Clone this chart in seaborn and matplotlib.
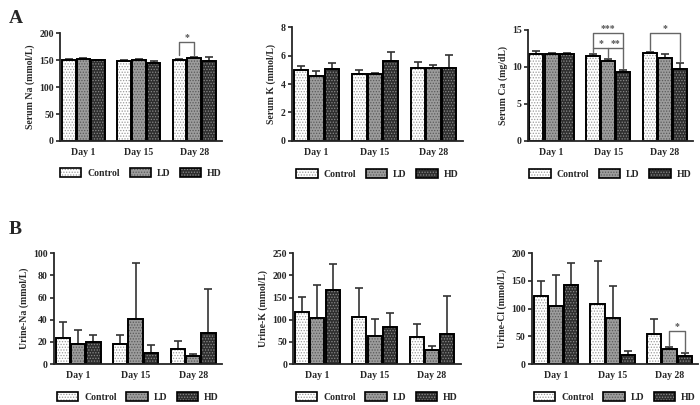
import numpy as np
import pandas as pd
import matplotlib
matplotlib.use("Agg")
import matplotlib.pyplot as plt
from matplotlib.patches import Patch
import seaborn as sns

# data (mean, upper SD)
days = ["Day 1", "Day 15", "Day 28"]
groups = ["Control", "LD", "HD"]

serum_na = {"Control": [150, 148, 150], "LD": [152, 151, 154], "HD": [150, 145, 148]}
serum_na_err = {"Control": [2, 1.5, 2], "LD": [2, 2, 1.5], "HD": [1, 3, 7]}

serum_k = {"Control": [5.0, 4.7, 5.1], "LD": [4.6, 4.7, 5.1], "HD": [5.05, 5.6, 5.1]}
serum_k_err = {"Control": [0.25, 0.3, 0.45], "LD": [0.3, 0.1, 0.25], "HD": [0.4, 0.65, 0.95]}

serum_ca = {"Control": [11.8, 11.5, 11.9], "LD": [11.8, 10.8, 11.2], "HD": [11.7, 9.3, 9.7]}
serum_ca_err = {"Control": [0.3, 0.2, 0.15], "LD": [0.1, 0.25, 0.5], "HD": [0.15, 0.35, 0.8]}

urine_na = {"Control": [23.5, 18, 14], "LD": [18, 41, 7], "HD": [20, 10, 28]}
urine_na_err = {"Control": [14, 8, 6.5], "LD": [13, 50, 2], "HD": [6, 7.5, 40]}

urine_k = {"Control": [118, 107, 61], "LD": [103, 64, 31], "HD": [167, 84, 68]}
urine_k_err = {"Control": [34, 65, 30], "LD": [76, 37, 10], "HD": [58, 30, 86]}

urine_cl = {"Control": [122, 109, 55], "LD": [104, 83, 28], "HD": [143, 17, 15]}
urine_cl_err = {"Control": [27, 76, 27], "LD": [57, 57, 3], "HD": [39, 6, 5]}

fills = {"Control": "#ffffff", "LD": "#9c9c9c", "HD": "#2e2e2e"}
hatch_cols = {"Control": "#9a9a9a", "LD": "#5a5a5a", "HD": "#8a8a8a"}

sns.set_style("ticks")
plt.rcParams["font.family"] = ["Liberation Serif", "DejaVu Serif"]
plt.rcParams["font.weight"] = "bold"
plt.rcParams["hatch.linewidth"] = 0.6

fig = plt.figure(figsize=(7, 4.05), dpi=100)

panels = [
    # values, errors, ylabel, yticks, rect
    (serum_na, serum_na_err, "Serum Na (mmol/L)", [0, 50, 100, 150, 200], [0.086, 0.652, 0.231, 0.266]),
    (serum_k, serum_k_err, "Serum K (mmol/L)", [0, 2, 4, 6, 8], [0.417, 0.652, 0.244, 0.281]),
    (serum_ca, serum_ca_err, "Serum Ca (mg/dL)", [0, 5, 10, 15], [0.754, 0.652, 0.236, 0.274]),
    (urine_na, urine_na_err, "Urine-Na (mmol/L)", [0, 20, 40, 60, 80, 100], [0.077, 0.101, 0.240, 0.274]),
    (urine_k, urine_k_err, "Urine-K (mmol/L)", [0, 50, 100, 150, 200, 250], [0.419, 0.101, 0.239, 0.274]),
    (urine_cl, urine_cl_err, "Urine-Cl (mmol/L)", [0, 50, 100, 150, 200], [0.760, 0.101, 0.237, 0.274]),
]

axes = []
centers_all = []
for vals, errs, ylab, yt, rect in panels:
    ax = fig.add_axes(rect)
    df = pd.DataFrame(
        [(d, g, vals[g][i]) for g in groups for i, d in enumerate(days)],
        columns=["day", "group", "value"],
    )
    sns.barplot(data=df, x="day", y="value", hue="group", order=days, hue_order=groups,
                palette=fills, errorbar=None, edgecolor="black", linewidth=1.4,
                width=0.8, gap=0.07, saturation=1, legend=False, ax=ax, zorder=2)
    centers = {}
    for g, cont in zip(groups, ax.containers):
        xs = []
        for bar in cont:
            bar.set_hatch("......")
            bar._hatch_color = matplotlib.colors.to_rgba(hatch_cols[g])
            xs.append(bar.get_x() + bar.get_width() / 2)
        xs = np.array(xs)
        centers[g] = xs
        ax.errorbar(xs, vals[g], yerr=[np.zeros(3), errs[g]], fmt="none",
                    ecolor="#333333", elinewidth=1.2, capsize=3, capthick=1.2, zorder=1)
    centers_all.append(centers)
    ax.set_xlim(-0.42, 2.5)
    ax.set_ylim(0, yt[-1])
    ax.set_yticks(yt)
    ax.set_xlabel("")
    ax.set_ylabel(ylab, fontsize=7, fontweight="bold", labelpad=3)
    ax.tick_params(axis="y", labelsize=7, length=3, width=1.2, pad=1.5)
    ax.tick_params(axis="x", labelsize=7, length=0, pad=5)
    for lab in ax.get_xticklabels() + ax.get_yticklabels():
        lab.set_fontweight("bold")
    sns.despine(ax=ax)
    for s in ["left", "bottom"]:
        ax.spines[s].set_linewidth(1.3)
    handles = [Patch(facecolor=fills[g], edgecolor="black", linewidth=1.2, hatch="......")
               for g in groups]
    leg = ax.legend(handles, groups, loc="upper center", bbox_to_anchor=(0.5, -0.17),
                    ncol=3, frameon=False, fontsize=7, handlelength=2.2, handleheight=1.1,
                    columnspacing=1.0, handletextpad=0.6)
    for h, g in zip(leg.legend_handles, groups):
        h._hatch_color = matplotlib.colors.to_rgba(hatch_cols[g])
    axes.append(ax)


def bracket(ax, x1, x2, y, y1, y2, text):
    c = "#666666"
    ax.plot([x1, x1, x2, x2], [y1, y, y, y2], color=c, lw=1.0, clip_on=False, zorder=3)
    ax.text((x1 + x2) / 2, y, text, ha="center", va="bottom", fontsize=7,
            color="#555555", fontweight="bold")


# Serum Na, Day 28: Control vs LD
c = centers_all[0]
bracket(axes[0], c["Control"][2], c["LD"][2], 183, 160, 160, "*")

# Serum Ca, Day 15 and Day 28
c = centers_all[2]
bracket(axes[2], c["Control"][1], c["HD"][1], 14.6, 12.6, 12.6, "***")
ax = axes[2]
ax.plot([c["Control"][1], c["Control"][1], c["HD"][1], c["HD"][1]], [12.0, 12.6, 12.6, 9.9],
        color="#666666", lw=1.0, zorder=3)
ax.plot([c["LD"][1], c["LD"][1]], [12.6, 11.3], color="#666666", lw=1.0, zorder=3)
ax.text((c["Control"][1] + c["LD"][1]) / 2, 12.6, "*", ha="center", va="bottom",
        fontsize=7, color="#555555", fontweight="bold")
ax.text((c["LD"][1] + c["HD"][1]) / 2, 12.6, "**", ha="center", va="bottom",
        fontsize=7, color="#555555", fontweight="bold")
bracket(axes[2], c["Control"][2], c["HD"][2], 14.6, 12.3, 10.8, "*")

# Urine-Cl, Day 28: LD vs HD
c = centers_all[5]
bracket(axes[5], c["LD"][2], c["HD"][2], 60, 35, 22, "*")

fig.text(0.012, 0.975, "A", fontsize=14, fontweight="bold", va="top")
fig.text(0.012, 0.455, "B", fontsize=14, fontweight="bold", va="top")

fig.savefig("out.png", dpi=100)
